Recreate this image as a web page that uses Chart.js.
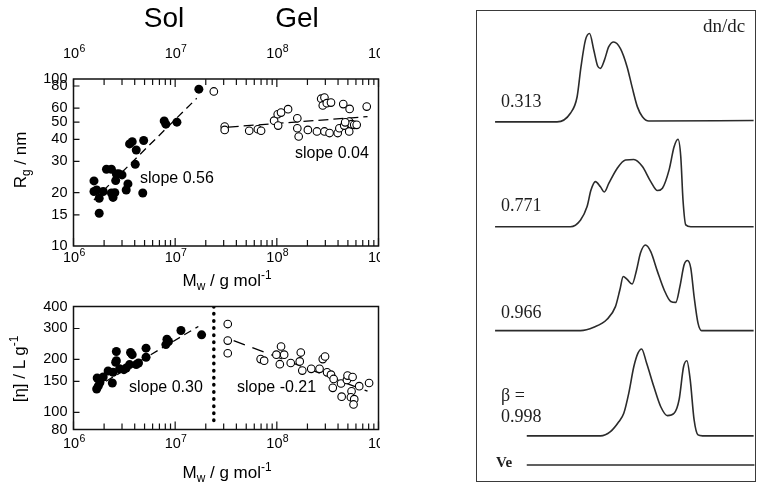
<!DOCTYPE html>
<html><head><meta charset="utf-8">
<script src="https://cdn.jsdelivr.net/npm/chart.js@4.4.1/dist/chart.umd.min.js"></script>
<style>
html,body{margin:0;padding:0;background:#fff;}
body{width:758px;height:485px;position:relative;overflow:hidden;font-family:'Liberation Sans',Arial,Helvetica,sans-serif;color:#000;}
.t{position:absolute;white-space:nowrap;line-height:1;}
.c{transform:translate(-50%,-50%);}
.l{transform:translate(0,-50%);}
.r90{transform:translate(-50%,-50%) rotate(-90deg);}
sub,sup{line-height:0;font-size:70%;}
#left{position:absolute;left:0;top:0;width:380px;height:485px;overflow:hidden;}
#cRg{position:absolute;left:0;top:0;width:430px;height:300px;}
#cEta{position:absolute;left:0;top:290px;width:430px;height:195px;}
#gpcBox{position:absolute;left:476px;top:10px;width:278px;height:470px;border:1px solid #3a3a3a;}
#cGpc{width:278px;height:470px;display:block;}
.serif{font-family:'Liberation Serif','Times New Roman',serif;color:#1e1e1e;}
</style></head>
<body>
<div id="left">
  <canvas id="cRg" width="430" height="300"></canvas>
  <canvas id="cEta" width="430" height="195"></canvas>
  <div class="t c" style="left:164px;top:18px;font-size:28px;">Sol</div>
  <div class="t c" style="left:297px;top:18px;font-size:28px;">Gel</div>
  <div class="t c" style="left:227px;top:280px;font-size:17px;">M<sub>w</sub> / g mol<sup>-1</sup></div>
  <div class="t c" style="left:227px;top:472px;font-size:17px;">M<sub>w</sub> / g mol<sup>-1</sup></div>
  <div class="t r90" style="left:20px;top:160px;font-size:17px;">R<sub>g</sub> / nm</div>
  <div class="t r90" style="left:19px;top:369px;font-size:17px;">[η] / L g<sup>-1</sup></div>
  <div class="t l" style="left:140px;top:178px;font-size:16px;">slope 0.56</div>
  <div class="t l" style="left:295px;top:153px;font-size:16px;">slope 0.04</div>
  <div class="t l" style="left:129px;top:387px;font-size:16px;">slope 0.30</div>
  <div class="t l" style="left:237px;top:387px;font-size:16px;">slope -0.21</div>
</div>
<div id="gpcBox"><canvas id="cGpc" width="278" height="470"></canvas></div>
<div class="t l serif" style="left:703px;top:25px;font-size:19px;">dn/dc</div>
<div class="t l serif" style="left:501px;top:101px;font-size:18px;">0.313</div>
<div class="t l serif" style="left:501px;top:205px;font-size:18px;">0.771</div>
<div class="t l serif" style="left:501px;top:312px;font-size:18px;">0.966</div>
<div class="t l serif" style="left:501px;top:395px;font-size:18px;">β =</div>
<div class="t l serif" style="left:501px;top:416px;font-size:18px;">0.998</div>
<div class="t l serif" style="left:496px;top:462px;font-size:15px;font-weight:bold;">Ve</div>
<script>
// ---------- data: R_g vs M_w ----------
const solRgMw = [1.71e7, 7.8e6, 8.1e6, 1.04e7, 3.56e6, 3.78e6, 4.9e6, 4.14e6, 4.05e6, 2.11e6, 2.36e6, 2.64e6, 3.0e6, 2.78e6, 2.6e6, 3.43e6, 1.59e6, 1.59e6, 1.69e6, 1.96e6, 1.79e6, 2.36e6, 2.55e6, 2.45e6, 3.3e6, 4.8e6, 1.79e6];
const solRg   = [76.8, 50.8, 48.7, 50, 37.7, 38.8, 39.4, 34.8, 28.9, 27.1, 27.1, 25.5, 25.2, 25.6, 23.4, 22.4, 23.3, 20.3, 20.7, 20.3, 18.6, 19.9, 20.0, 18.8, 20.7, 19.9, 15.3];
const gelRgMw = [2.4e7, 3.07e7, 3.07e7, 5.35e7, 6.5e7, 7.0e7, 9.4e7, 1.02e8, 1.1e8, 1.29e8, 1.03e8, 1.59e8, 1.59e8, 1.64e8, 2.02e8, 2.73e8, 2.94e8, 2.83e8, 3.1e8, 3.41e8, 4.5e8, 5.2e8, 7.66e8, 2.48e8, 2.94e8, 3.3e8, 3.97e8, 4.12e8, 4.6e8, 5.15e8, 5.15e8, 5.43e8, 5.77e8, 6.1e8, 4.7e8];
const gelRg   = [74.5, 47.2, 45.2, 44.7, 45.6, 44.7, 51, 55.4, 56.6, 59.2, 47.8, 52.6, 46.2, 41.5, 45.2, 67.8, 68.9, 62.1, 64, 64.5, 63.2, 59.4, 61.2, 44.3, 44.3, 43.4, 43.4, 46.2, 47.8, 44.3, 50.4, 48.7, 48.3, 48.3, 49.9];
const solRgFitMw = [1.59e6, 1.63e7];
const solRgFit   = [18.2, 68.2];
const gelRgFitMw = [3.36e7, 7.8e8];
const gelRgFit   = [46.9, 53.7];

// ---------- data: [eta] vs M_w ----------
const solEtaMw = [1.14e7, 1.82e7, 8.3e6, 8.6e6, 8.1e6, 5.17e6, 2.64e6, 3.64e6, 3.78e6, 2.64e6, 5.17e6, 4.14e6, 4.36e6, 3.56e6, 3.13e6, 2.84e6, 2.45e6, 2.19e6, 1.96e6, 1.71e6, 1.82e6, 1.69e6, 2.41e6, 1.75e6, 3.3e6, 2.6e6];
const solEta   = [292, 276, 261, 253, 243, 232, 222, 219, 213, 197, 206, 187, 191, 187, 175, 177, 169, 172, 159, 157, 148, 136, 147, 141, 179, 193];
const gelEtaMw = [3.29e7, 3.29e7, 3.29e7, 6.93e7, 7.5e7, 9.9e7, 1.1e8, 1.18e8, 1.07e8, 1.37e8, 1.68e8, 1.72e8, 1.78e8, 2.18e8, 2.63e8, 2.83e8, 2.98e8, 3.12e8, 3.41e8, 3.62e8, 3.55e8, 4.28e8, 4.34e8, 4.89e8, 4.96e8, 5.56e8, 5.43e8, 5.35e8, 5.77e8, 5.68e8, 6.46e8, 8.08e8];
const gelEta   = [318, 256, 217, 201, 197, 213, 237, 213, 188, 191, 195, 219, 173, 177, 177, 201, 208, 169, 164, 155, 138, 146, 123, 153, 162, 159, 132, 122, 119, 111, 141, 147];
const solEtaFitMw = [1.62e6, 1.69e7];
const solEtaFit   = [138, 308];
const gelEtaFitMw = [3.76e7, 7.8e8];
const gelEtaFit   = [256, 132];
const solGelMw = [2.4e7, 2.4e7];
const solGelEta = [400, 87];

// ---------- ticks ----------
const mwTicks = [1e6,2e6,3e6,4e6,5e6,6e6,7e6,8e6,9e6,1e7,2e7,3e7,4e7,5e7,6e7,7e7,8e7,9e7,1e8,2e8,3e8,4e8,5e8,6e8,7e8,8e8,9e8,1e9];
const mwDecadeBase = '10';
const mwDecadeExp = {6: '6', 7: '7', 8: '8', 9: '9'};
const RG_AXIS_TOP = 87.6;
const rgTickValues = [10, 15, 20, 30, 40, 50, 60, 80, RG_AXIS_TOP];
const rgTickLabels = ['10', '15', '20', '30', '40', '50', '60', '80', '100'];
const etaTickValues = [80, 100, 150, 200, 300, 400];
const etaTickLabels = ['80', '100', '150', '200', '300', '400'];

// ---------- data: GPC traces (elution volume, signal above baseline) ----------
const gpcBaselines = [76.4, 54.1, 32.0, 9.6];
const veLevel = 3.4;
const veVol = [17.9, 99.8];
const gpcV1 = [6.5, 28.8, 33.6, 36.0, 37.4, 39.0, 40.5, 42.0, 43.4, 44.4, 45.8, 47.4, 49.2, 51.6, 54.0, 55.8, 57.7, 59.5, 61.8, 99.5];
const gpcH1 = [0, 0, 1.85, 5.3, 11.7, 17.4, 18.8, 15.3, 11.9, 11.4, 13.1, 16.0, 17.0, 15.6, 11.7, 7.4, 3.2, 1.1, 0.2, 0.3];
const gpcV2 = [6.5, 33.6, 37.2, 39.6, 41.0, 42.6, 44.4, 45.8, 47.4, 50.4, 53.4, 56.4, 59.5, 62.5, 64.9, 66.7, 69.1, 70.9, 72.3, 73.3, 74.1, 75.1, 76.9, 99.5];
const gpcH2 = [0, 0, 1.4, 4.3, 7.8, 9.6, 8.5, 7.4, 9.2, 12.4, 14.2, 14.3, 12.8, 9.6, 7.7, 8.2, 12.1, 17.0, 18.6, 14.9, 5.7, 0.4, 0, 0];
const gpcV3 = [6.5, 37.2, 42.0, 46.8, 49.8, 51.4, 52.6, 54.0, 55.8, 57.4, 58.8, 60.6, 62.5, 64.9, 67.3, 69.7, 71.5, 73.0, 74.5, 75.7, 76.9, 78.1, 79.5, 80.8, 99.5];
const gpcH3 = [0, 0, 0.7, 2.4, 5.1, 8.7, 11.5, 10.9, 9.9, 12.9, 16.5, 18.2, 16.8, 12.6, 8.7, 6.2, 6.0, 9.4, 14.0, 14.9, 13.3, 7.2, 1.6, 0, 0];
const gpcV4 = [17.9, 44.4, 48.0, 51.0, 52.8, 54.6, 56.4, 57.9, 59.2, 61.0, 63.6, 66.1, 68.5, 70.9, 72.7, 74.3, 75.5, 76.7, 78.1, 79.5, 81.1, 99.5];
const gpcH4 = [0, 0, 0.9, 3.0, 4.8, 9.1, 14.7, 17.6, 18.5, 15.5, 10.5, 6.2, 4.3, 4.8, 7.7, 14.7, 16.0, 11.9, 3.4, 0.2, 0, 0];

// ---------- helpers ----------
const FONT = "'Liberation Sans', Arial, Helvetica, sans-serif";
Chart.defaults.font.family = FONT;
Chart.defaults.font.size = 14;
Chart.defaults.color = '#000';

const pts = (xs, ys) => xs.map((x, i) => ({x: x, y: ys[i]}));
const isDecade = v => Math.abs(Math.log10(v) - Math.round(Math.log10(v))) < 1e-6;

// frame, inward ticks and power-of-ten labels
const framePlugin = {
  id: 'frame',
  afterDatasetsDraw(chart, args, o) {
    const {ctx, chartArea: a} = chart;
    const xs = chart.scales.x, ys = chart.scales.y;
    ctx.save();
    ctx.strokeStyle = '#111';
    ctx.lineWidth = 1.5;
    ctx.strokeRect(a.left, a.top, a.right - a.left, a.bottom - a.top);
    ctx.lineWidth = 1.2;
    ctx.beginPath();
    xs.ticks.forEach(t => {
      const p = xs.getPixelForValue(t.value);
      const L = isDecade(t.value) ? 8 : 6;
      ctx.moveTo(p, a.bottom); ctx.lineTo(p, a.bottom - L);
      if (o.topTicks) { ctx.moveTo(p, a.top); ctx.lineTo(p, a.top + L); }
    });
    ys.ticks.forEach(t => {
      if (t.value >= ys.max || t.value <= ys.min) return;
      const p = ys.getPixelForValue(t.value);
      ctx.moveTo(a.left, p); ctx.lineTo(a.left + 6, p);
    });
    ctx.stroke();
    // decade labels 10^n
    ctx.fillStyle = '#000';
    ctx.textBaseline = 'alphabetic';
    ctx.textAlign = 'left';
    const rows = [a.bottom + o.bottomLabelOffset];
    if (o.topLabels) rows.push(a.top - o.topLabelOffset);
    xs.ticks.forEach(t => {
      if (!isDecade(t.value)) return;
      const e = mwDecadeExp[Math.round(Math.log10(t.value))];
      if (!e) return;
      const p = xs.getPixelForValue(t.value);
      ctx.font = '14.5px ' + FONT;
      const wb = ctx.measureText(mwDecadeBase).width;
      ctx.font = '10.5px ' + FONT;
      const we = ctx.measureText(e).width;
      const x0 = p - (wb + we) / 2 + 0.5;
      rows.forEach(cy => {
        ctx.font = '14.5px ' + FONT;
        ctx.fillText(mwDecadeBase, x0, cy + 5.2);
        ctx.font = '10.5px ' + FONT;
        ctx.fillText(e, x0 + wb + 0.3, cy - 0.8);
      });
    });
    ctx.restore();
  }
};

function xScale(pos, size) {
  return {
    type: 'logarithmic', position: pos, min: 1e6, max: 1e9,
    afterBuildTicks: s => { s.ticks = mwTicks.map(v => ({value: v})); },
    afterFit: s => { s.height = size; },
    grid: {display: false, drawTicks: false},
    border: {display: false},
    ticks: {display: false, autoSkip: false}
  };
}
function yScale(min, max, values, labels) {
  return {
    type: 'logarithmic', position: 'left', min: min, max: max,
    afterBuildTicks: s => { s.ticks = values.map(v => ({value: v})); },
    afterFit: s => { s.width = 73.5; },
    grid: {display: false, drawTicks: false},
    border: {display: false},
    ticks: {autoSkip: false, padding: 6, callback: (v, i) => labels[i], color: '#000', font: {size: 14.5}}
  };
}
const filled = d => ({data: d, showLine: false, pointRadius: 4.5, pointBackgroundColor: '#000', pointBorderColor: '#000', pointBorderWidth: 0, order: 1});
const open = d => ({data: d, showLine: false, pointRadius: 3.8, pointBackgroundColor: '#fff', pointBorderColor: '#000', pointBorderWidth: 1.1, order: 0});
const fit = (d, dash) => ({data: d, showLine: true, pointRadius: 0, borderColor: '#000', borderWidth: 1.3, borderDash: dash, order: 5, fill: false});

const baseOpts = {
  responsive: false, animation: false, events: [],
  plugins: {legend: {display: false}, tooltip: {enabled: false}},
};

// ---------- top: Rg ----------
new Chart(document.getElementById('cRg'), {
  type: 'scatter',
  data: {datasets: [
    filled(pts(solRgMw, solRg)),
    open(pts(gelRgMw, gelRg)),
    fit(pts(solRgFitMw, solRgFit), [8, 5]),
    fit(pts(gelRgFitMw, gelRgFit), [10, 5])
  ]},
  options: Object.assign({}, baseOpts, {
    layout: {padding: {left: 0, top: 0, bottom: 0, right: 51.5}},
    plugins: Object.assign({}, baseOpts.plugins, {frame: {topTicks: true, topLabels: true, bottomLabelOffset: 11, topLabelOffset: 26}}),
    scales: {
      x: xScale('bottom', 54),
      x2: xScale('top', 79),
      y: yScale(10, RG_AXIS_TOP, rgTickValues, rgTickLabels)
    }
  }),
  plugins: [framePlugin]
});

// ---------- bottom: [eta] ----------
new Chart(document.getElementById('cEta'), {
  type: 'scatter',
  data: {datasets: [
    filled(pts(solEtaMw, solEta)),
    open(pts(gelEtaMw, gelEta)),
    fit(pts(solEtaFitMw, solEtaFit), [8, 5]),
    fit(pts(gelEtaFitMw, gelEtaFit), [12, 8]),
    {data: pts(solGelMw, solGelEta), showLine: true, pointRadius: 0, borderColor: '#000', borderWidth: 3.5,
     borderDash: [0.5, 6.6], borderCapStyle: 'round', order: 6, fill: false}
  ]},
  options: Object.assign({}, baseOpts, {
    layout: {padding: {left: 0, top: 0, bottom: 0, right: 51.5}},
    plugins: Object.assign({}, baseOpts.plugins, {frame: {topTicks: false, topLabels: false, bottomLabelOffset: 13.5, topLabelOffset: 0}}),
    scales: {
      x: xScale('bottom', 55.5),
      x2: xScale('top', 16.5),
      y: yScale(80, 400, etaTickValues, etaTickLabels)
    }
  }),
  plugins: [framePlugin]
});

// ---------- right: GPC traces ----------
const gpcV = [gpcV1, gpcV2, gpcV3, gpcV4];
const gpcH = [gpcH1, gpcH2, gpcH3, gpcH4];
const gpcSets = gpcV.map((v, k) => ({
  data: v.map((x, i) => ({x: x, y: gpcBaselines[k] + gpcH[k][i]})),
  borderColor: '#2b2b2b', borderWidth: 1.6, pointRadius: 0, cubicInterpolationMode: 'monotone', fill: false
}));
gpcSets.push({data: veVol.map(x => ({x: x, y: veLevel})), borderColor: '#2b2b2b', borderWidth: 1.6, pointRadius: 0, fill: false});
new Chart(document.getElementById('cGpc'), {
  type: 'line',
  data: {datasets: gpcSets},
  options: Object.assign({}, baseOpts, {
    layout: {padding: 0},
    scales: {
      x: {type: 'linear', min: 0, max: 100, display: false},
      y: {type: 'linear', min: 0, max: 100, display: false}
    }
  })
});
</script>
</body></html>
